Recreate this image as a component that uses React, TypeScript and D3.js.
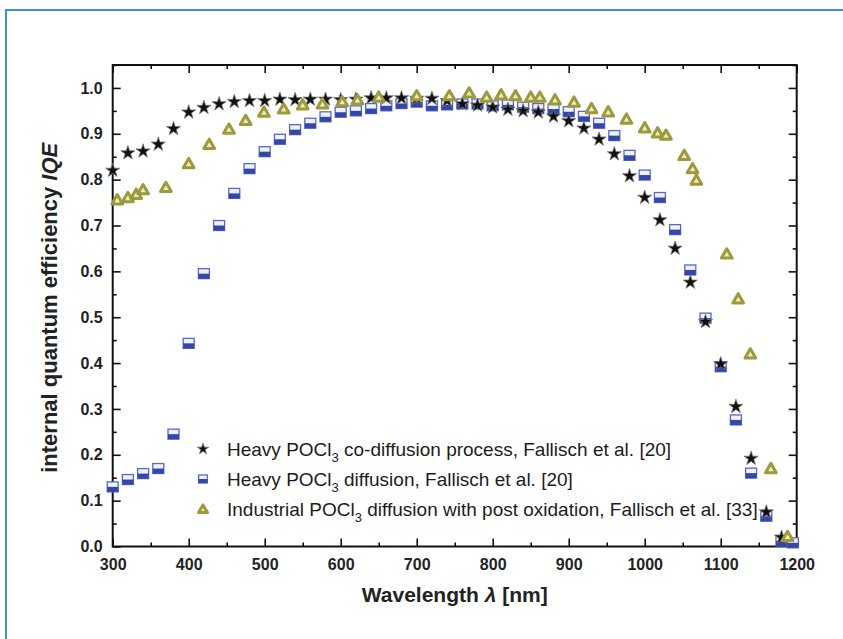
import { useEffect, useRef } from 'react';
import * as d3 from 'd3';

// Heavy POCl3 co-diffusion process (stars)
const starWl = [300, 320, 340, 360, 380, 400, 420, 440, 460, 480, 500, 520, 540, 560, 580, 600, 620, 640, 660, 680, 700, 720, 740, 760, 780, 800, 820, 840, 860, 880, 900, 920, 940, 960, 980, 1000, 1020, 1040, 1060, 1080, 1100, 1120, 1140, 1160, 1180];
const starIqe = [0.820, 0.858, 0.862, 0.877, 0.911, 0.947, 0.957, 0.965, 0.970, 0.972, 0.972, 0.975, 0.974, 0.975, 0.975, 0.974, 0.975, 0.978, 0.978, 0.978, 0.977, 0.977, 0.972, 0.965, 0.962, 0.958, 0.953, 0.950, 0.947, 0.938, 0.928, 0.912, 0.888, 0.856, 0.808, 0.761, 0.712, 0.650, 0.576, 0.490, 0.398, 0.305, 0.192, 0.075, 0.020];

// Heavy POCl3 diffusion (half-filled squares)
const squareWl = [300, 320, 340, 360, 380, 400, 420, 440, 460, 480, 500, 520, 540, 560, 580, 600, 620, 640, 660, 680, 700, 720, 740, 760, 780, 800, 820, 840, 860, 880, 900, 920, 940, 960, 980, 1000, 1020, 1040, 1060, 1080, 1100, 1120, 1140, 1160, 1180, 1195];
const squareIqe = [0.130, 0.146, 0.159, 0.170, 0.245, 0.443, 0.595, 0.700, 0.770, 0.824, 0.861, 0.888, 0.909, 0.923, 0.937, 0.947, 0.950, 0.955, 0.961, 0.966, 0.969, 0.961, 0.963, 0.965, 0.965, 0.961, 0.963, 0.958, 0.955, 0.954, 0.948, 0.938, 0.923, 0.896, 0.853, 0.810, 0.761, 0.691, 0.603, 0.498, 0.392, 0.276, 0.160, 0.066, 0.012, 0.008];

// Industrial POCl3 diffusion with post oxidation (triangles)
const triWl = [306, 320, 331, 340, 370, 400, 427, 453, 475, 499, 525, 550, 576, 602, 622, 650, 700, 743, 769, 792, 811, 830, 850, 862, 882, 907, 930, 952, 976, 1000, 1017, 1028, 1052, 1063, 1068, 1108, 1123, 1139, 1166, 1188];
const triIqe = [0.756, 0.761, 0.768, 0.778, 0.783, 0.835, 0.877, 0.910, 0.929, 0.947, 0.954, 0.963, 0.965, 0.970, 0.974, 0.980, 0.983, 0.983, 0.989, 0.980, 0.985, 0.983, 0.980, 0.980, 0.974, 0.969, 0.955, 0.948, 0.932, 0.913, 0.902, 0.897, 0.853, 0.824, 0.799, 0.638, 0.540, 0.420, 0.170, 0.022];

const xMajor = [300, 400, 500, 600, 700, 800, 900, 1000, 1100, 1200];
const xMinor = [350, 450, 550, 650, 750, 850, 950, 1050, 1150];
const yMajor = [0, 0.1, 0.2, 0.3, 0.4, 0.5, 0.6, 0.7, 0.8, 0.9, 1.0];
const yMinor = [0.05, 0.15, 0.25, 0.35, 0.45, 0.55, 0.65, 0.75, 0.85, 0.95, 1.05];

const legendItems = [
  { kind: 'star', pre: 'Heavy POCl', post: ' co-diffusion process, Fallisch et al. [20]' },
  { kind: 'square', pre: 'Heavy POCl', post: ' diffusion, Fallisch et al. [20]' },
  { kind: 'tri', pre: 'Industrial POCl', post: ' diffusion with post oxidation, Fallisch et al. [33]' },
];

const FONT = '"Liberation Sans", Arial, Helvetica, sans-serif';
const SQ_BORDER = '#5a68c8';
const SQ_FILL = '#3446a6';
const TRI_COLOR = '#9c9a3a';

export default function App() {
  const svgRef = useRef<SVGSVGElement>(null);

  useEffect(() => {
    if (!svgRef.current) return;
    const width = 843;
    const height = 639;
    const margin = { top: 65, right: 46.3, bottom: 92.5, left: 112.7 };
    const innerWidth = width - margin.left - margin.right;
    const innerHeight = height - margin.top - margin.bottom;

    const svg = d3.select(svgRef.current);
    svg.selectAll('*').remove();

    // outer blue frame
    svg.append('path')
      .attr('d', `M6,${height} L6,10 L${width},10`)
      .attr('fill', 'none')
      .attr('stroke', '#3d8fd6')
      .attr('stroke-width', 2);

    const g = svg.append('g')
      .attr('transform', `translate(${margin.left}, ${margin.top})`);

    const xScale = d3.scaleLinear().domain([300, 1200]).range([0, innerWidth]);
    const yScale = d3.scaleLinear().domain([0, 1.05]).range([innerHeight, 0]);

    const styleAxis = (sel: any) => {
      sel.select('.domain').remove();
      sel.selectAll('line').attr('stroke', '#111').attr('stroke-width', 1.6);
      sel.selectAll('text')
        .attr('fill', '#222')
        .style('font-family', FONT)
        .style('font-size', '16px')
        .style('font-weight', 'bold');
    };

    // bottom axis
    g.append('g')
      .attr('transform', `translate(0, ${innerHeight})`)
      .call(d3.axisBottom(xScale).tickValues(xMajor).tickSize(-8).tickPadding(12).tickFormat(d3.format('d')))
      .call(styleAxis);
    g.append('g')
      .attr('transform', `translate(0, ${innerHeight})`)
      .call(d3.axisBottom(xScale).tickValues(xMinor).tickSize(-4).tickFormat(() => ''))
      .call(styleAxis);
    // top axis
    g.append('g')
      .call(d3.axisTop(xScale).tickValues(xMajor).tickSize(-8).tickFormat(() => ''))
      .call(styleAxis);
    g.append('g')
      .call(d3.axisTop(xScale).tickValues(xMinor).tickSize(-4).tickFormat(() => ''))
      .call(styleAxis);
    // left axis
    g.append('g')
      .call(d3.axisLeft(yScale).tickValues(yMajor).tickSize(-8).tickPadding(10).tickFormat(d3.format('.1f')))
      .call(styleAxis);
    g.append('g')
      .call(d3.axisLeft(yScale).tickValues(yMinor).tickSize(-4).tickFormat(() => ''))
      .call(styleAxis);
    // right axis
    g.append('g')
      .attr('transform', `translate(${innerWidth}, 0)`)
      .call(d3.axisRight(yScale).tickValues(yMajor).tickSize(-8).tickFormat(() => ''))
      .call(styleAxis);
    g.append('g')
      .attr('transform', `translate(${innerWidth}, 0)`)
      .call(d3.axisRight(yScale).tickValues(yMinor).tickSize(-4).tickFormat(() => ''))
      .call(styleAxis);

    // plot frame
    g.append('rect')
      .attr('width', innerWidth)
      .attr('height', innerHeight)
      .attr('fill', 'none')
      .attr('stroke', '#111')
      .attr('stroke-width', 2);

    const starPath = d3.symbol().type(d3.symbolStar).size(62)();
    const triPath = d3.symbol().type(d3.symbolTriangle).size(50)();
    const starPathSm = d3.symbol().type(d3.symbolStar).size(40)();
    const triPathSm = d3.symbol().type(d3.symbolTriangle).size(34)();

    const drawSquare = (s: number) => (sel: any) => {
      sel.append('rect')
        .attr('x', -5.5 * s).attr('y', -5 * s).attr('width', 11 * s).attr('height', 10 * s)
        .attr('fill', '#eef0fb')
        .attr('stroke', SQ_BORDER)
        .attr('stroke-width', 1.3);
      sel.append('rect')
        .attr('x', -5.5 * s).attr('y', 0).attr('width', 11 * s).attr('height', 5 * s)
        .attr('fill', SQ_FILL);
    };
    const drawStar = (p: string) => (sel: any) => {
      sel.append('path')
        .attr('d', p)
        .attr('fill', '#111')
        .attr('stroke', '#777')
        .attr('stroke-width', 0.8);
    };
    const drawTri = (p: string) => (sel: any) => {
      sel.append('path')
        .attr('d', p)
        .attr('transform', 'translate(0,1)')
        .attr('fill', '#ecebc8')
        .attr('stroke', TRI_COLOR)
        .attr('stroke-width', 3)
        .attr('stroke-linejoin', 'round');
    };

    const squares = squareWl.map((x, i) => ({ x, y: squareIqe[i] }));
    const stars = starWl.map((x, i) => ({ x, y: starIqe[i] }));
    const tris = triWl.map((x, i) => ({ x, y: triIqe[i] }));

    g.append('g').selectAll('g').data(squares).join('g')
      .attr('transform', d => `translate(${xScale(d.x)}, ${yScale(d.y)})`)
      .call(drawSquare(1));
    g.append('g').selectAll('g').data(stars).join('g')
      .attr('transform', d => `translate(${xScale(d.x)}, ${yScale(d.y)})`)
      .call(drawStar(starPath));
    g.append('g').selectAll('g').data(tris).join('g')
      .attr('transform', d => `translate(${xScale(d.x)}, ${yScale(d.y)})`)
      .call(drawTri(triPath));

    // Legend
    const legend = svg.append('g').attr('transform', 'translate(203, 449)');
    legendItems.forEach((item, i) => {
      const row = legend.append('g').attr('transform', `translate(0, ${i * 30})`);
      if (item.kind === 'star') row.call(drawStar(starPathSm));
      if (item.kind === 'square') row.call(drawSquare(0.8));
      if (item.kind === 'tri') row.call(drawTri(triPathSm));
      const t = row.append('text')
        .attr('x', 24)
        .attr('y', 7)
        .attr('fill', '#1c1c1c')
        .style('font-family', FONT)
        .style('font-size', '19px');
      t.append('tspan').text(item.pre);
      t.append('tspan').attr('dy', 6).style('font-size', '13px').text('3');
      t.append('tspan').attr('dy', -6).text(item.post);
    });

    // Axis titles
    const xt = svg.append('text')
      .attr('x', margin.left + innerWidth / 2)
      .attr('y', 602)
      .attr('text-anchor', 'middle')
      .attr('fill', '#222')
      .style('font-family', FONT)
      .style('font-size', '21px')
      .style('font-weight', 'bold');
    xt.append('tspan').text('Wavelength ');
    xt.append('tspan').style('font-style', 'italic').text('λ');
    xt.append('tspan').text(' [nm]');

    const yt = svg.append('text')
      .attr('transform', `translate(57, ${margin.top + innerHeight / 2 + 2}) rotate(-90)`)
      .attr('text-anchor', 'middle')
      .attr('fill', '#222')
      .style('font-family', FONT)
      .style('font-size', '22px')
      .style('font-weight', 'bold');
    yt.append('tspan').text('internal quantum efficiency ');
    yt.append('tspan').style('font-style', 'italic').text('IQE');
  }, []);

  return (
    <svg
      ref={svgRef}
      width={843}
      height={639}
      style={{ position: 'absolute', left: 0, top: 0, background: '#fff' }}
    />
  );
}
